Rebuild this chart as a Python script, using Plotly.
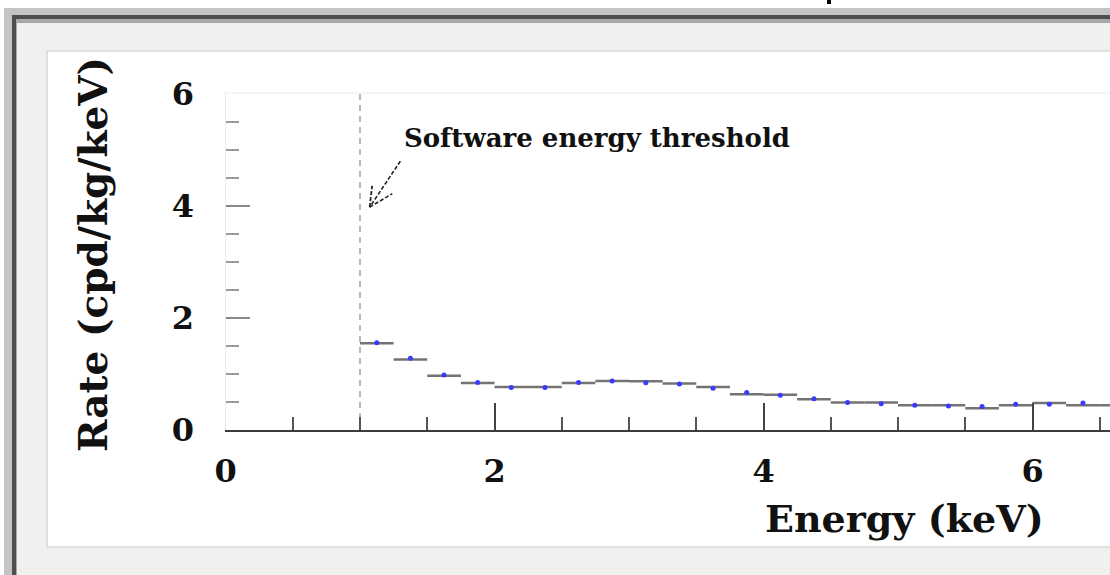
import plotly.graph_objects as go

# ---- data ----
bin_low = [1.0, 1.25, 1.5, 1.75, 2.0, 2.25, 2.5, 2.75, 3.0, 3.25, 3.5, 3.75,
           4.0, 4.25, 4.5, 4.75, 5.0, 5.25, 5.5, 5.75, 6.0, 6.25, 6.5]
bin_width = 0.25
hist_rate = [1.55, 1.26, 0.97, 0.84, 0.77, 0.77, 0.84, 0.875, 0.87, 0.83, 0.77, 0.64,
             0.63, 0.55, 0.49, 0.49, 0.44, 0.44, 0.39, 0.44, 0.48, 0.44, 0.44]
point_rate = [1.56, 1.28, 0.98, 0.85, 0.76, 0.76, 0.85, 0.875, 0.845, 0.82, 0.745, 0.67,
              0.62, 0.56, 0.49, 0.47, 0.44, 0.43, 0.42, 0.46, 0.46, 0.48, 0.44]
threshold_energy = 1.0
x_ticks = [0, 2, 4, 6]
y_ticks = [0, 2, 4, 6]

FONT = "DejaVu Serif"
W, H = 1110, 575

def px(x):
    return x / W

def py(y):
    return 1 - y / H

# histogram segments (one horizontal bar per bin)
hx, hy = [], []
for lo, v in zip(bin_low, hist_rate):
    hx += [lo, lo + bin_width, None]
    hy += [v, v, None]
centers = [lo + bin_width / 2 for lo in bin_low]

fig = go.Figure()
fig.add_trace(go.Scatter(x=hx, y=hy, mode="lines",
                         line=dict(color="rgba(90,90,90,0.85)", width=2.5),
                         hoverinfo="skip", showlegend=False))
fig.add_trace(go.Scatter(x=centers, y=point_rate, mode="markers",
                         marker=dict(color="#3a3aff", size=5, symbol="circle"),
                         showlegend=False))
# threshold dashed line
fig.add_trace(go.Scatter(x=[threshold_energy, threshold_energy], y=[0, 6], mode="lines",
                         line=dict(color="#8a8a8a", width=1.2, dash="6px,5px"),
                         hoverinfo="skip", showlegend=False))

shapes = []
# outer decorative frame
shapes.append(dict(type="rect", xref="paper", yref="paper", x0=px(4), x1=px(1120), y0=py(8), y1=py(590),
                   fillcolor="#c4c4c4", line=dict(width=0), layer="below"))
shapes.append(dict(type="rect", xref="paper", yref="paper", x0=px(12), x1=px(1120), y0=py(15), y1=py(590),
                   fillcolor="#4e4e4e", line=dict(width=0), layer="below"))
shapes.append(dict(type="rect", xref="paper", yref="paper", x0=px(16), x1=px(1120), y0=py(19), y1=py(590),
                   fillcolor="#a8a8a8", line=dict(width=0), layer="below"))
shapes.append(dict(type="rect", xref="paper", yref="paper", x0=px(17), x1=px(1120), y0=py(23), y1=py(590),
                   fillcolor="#f0f0ee", line=dict(width=0), layer="below"))
shapes.append(dict(type="rect", xref="paper", yref="paper", x0=px(47), x1=px(1120), y0=py(51), y1=py(547),
                   fillcolor="white", line=dict(color="#c8c8c8", width=1), layer="below"))
# faint top frame of the pad
shapes.append(dict(type="line", xref="paper", yref="paper", x0=px(224), x1=px(1115), y0=py(93), y1=py(93),
                   line=dict(color="#ececec", width=1), layer="below"))
# small cut-off mark at the top
shapes.append(dict(type="rect", xref="paper", yref="paper", x0=px(827), x1=px(831), y0=py(0), y1=py(4),
                   fillcolor="black", line=dict(width=0)))

# dashed arrow pointing at the threshold
tip_x, tip_y = 1.072, 3.98
tail_x, tail_y = 1.30, 4.80
shapes.append(dict(type="line", xref="x", yref="y", x0=tail_x, y0=tail_y, x1=tip_x, y1=tip_y,
                   line=dict(color="#222", width=1.6, dash="4px,2px")))
shapes.append(dict(type="line", xref="x", yref="y", x0=tip_x, y0=tip_y, x1=1.09, y1=4.36,
                   line=dict(color="#222", width=1.8, dash="4px,2px")))
shapes.append(dict(type="line", xref="x", yref="y", x0=tip_x, y0=tip_y, x1=1.24, y1=4.22,
                   line=dict(color="#222", width=1.6, dash="4px,2px")))

annotations = [
    dict(text="<b>Software energy threshold</b>", xref="paper", yref="paper",
         x=px(597), y=py(138), xanchor="center", yanchor="middle", showarrow=False,
         font=dict(family=FONT, size=26, color="#111")),
    dict(text="<b>Energy (keV)</b>", xref="paper", yref="paper",
         x=px(1046), y=py(518), xanchor="right", yanchor="middle", showarrow=False,
         font=dict(family=FONT, size=38, color="#111")),
    dict(text="<b>Rate (cpd/kg/keV)</b>", xref="paper", yref="paper",
         x=px(93), y=py(255), xanchor="center", yanchor="middle", showarrow=False,
         textangle=-90, font=dict(family=FONT, size=39, color="#111")),
]

x0_px = 225.5
x_scale = 134.5
fig.update_layout(
    template="none",
    width=W, height=H, autosize=False,
    margin=dict(l=0, r=0, t=0, b=0, pad=0),
    paper_bgcolor="white", plot_bgcolor="rgba(0,0,0,0)",
    shapes=shapes, annotations=annotations,
    showlegend=False,
    xaxis=dict(domain=[px(x0_px), 1], range=[0, (W - x0_px) / x_scale], automargin=False,
               tickvals=x_ticks, ticktext=[f"<b>{t}</b>" for t in x_ticks],
               ticks="inside", ticklen=27, tickwidth=2, tickcolor="#444",
               minor=dict(dtick=0.5, tick0=0, ticks="inside", ticklen=13, tickwidth=2, tickcolor="#555"),
               showline=True, linecolor="#3c3c3c", linewidth=2,
               showgrid=False, zeroline=False,
               tickfont=dict(family=FONT, size=32, color="#111"), ticklabelstandoff=12),
    yaxis=dict(domain=[py(430), py(94)], range=[0, 6], automargin=False,
               tickvals=y_ticks, ticktext=[f"<b>{t}</b>" for t in y_ticks],
               ticks="inside", ticklen=24, tickwidth=2, tickcolor="#888",
               minor=dict(dtick=0.5, tick0=0, ticks="inside", ticklen=13, tickwidth=2, tickcolor="#9a9a9a"),
               showline=True, linecolor="#eaeaea", linewidth=1,
               showgrid=False, zeroline=False,
               tickfont=dict(family=FONT, size=32, color="#111"), ticklabelstandoff=24),
)

fig.write_html("out.html",
               config={"displayModeBar": False, "responsive": False},
               post_script="document.body.style.margin='0';document.body.style.overflow='hidden';")
